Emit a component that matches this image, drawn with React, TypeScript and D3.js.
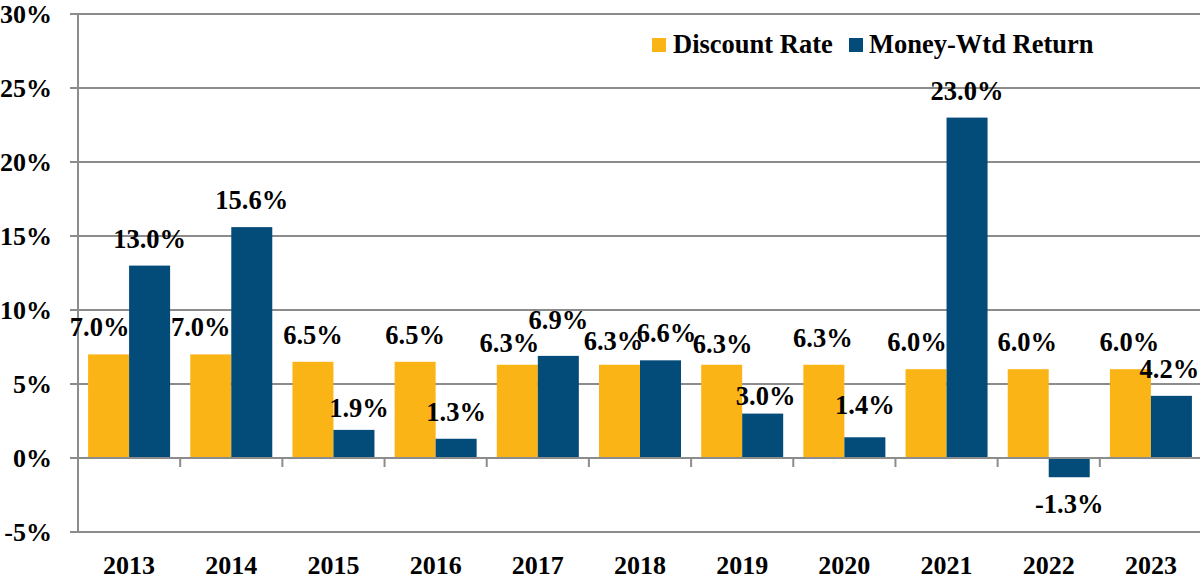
import React from "react";
import * as d3 from "d3";

const years = ["2013", "2014", "2015", "2016", "2017", "2018", "2019", "2020", "2021", "2022", "2023"];
const discountRate = [7.0, 7.0, 6.5, 6.5, 6.3, 6.3, 6.3, 6.3, 6.0, 6.0, 6.0];
const moneyWtdReturn = [13.0, 15.6, 1.9, 1.3, 6.9, 6.6, 3.0, 1.4, 23.0, -1.3, 4.2];
const yTicks = [-5, 0, 5, 10, 15, 20, 25, 30];
const seriesNames = ["Discount Rate", "Money-Wtd Return"];
const seriesColors = ["#FBB416", "#034B78"];

// manual label nudges (as placed in the original chart), [dx, dy]
const discountNudge: [number, number][] = [[-9, 0], [-10, 0], [0, 0], [0, 0], [-8, 5], [-6, 3], [1, 6], [-1, 0], [-9, 0], [-1, 0], [-1, 0]];
const returnNudge: [number, number][] = [[0, 0], [0, 0], [5, 5], [0, 0], [0, -9], [6, 0], [3, 9], [0, -5], [0, 0], [0, 0], [-2, 0]];

const W = 1200;
const H = 581;
const FONT = "'Liberation Serif', 'Times New Roman', serif";

export default function App() {
  const x = d3.scaleBand<string>().domain(years).range([78, 1202]).padding(0);
  const inner = d3.scaleBand<number>().domain([0, 1]).range([0, x.bandwidth()]).paddingInner(0).paddingOuter(0.246);
  const y = d3.scaleLinear().domain([-5, 30]).range([532, 14]);
  const grid = "#8C8C8C";
  const series = [discountRate, moneyWtdReturn];
  const nudges = [discountNudge, returnNudge];

  return (
    <div style={{ position: "fixed", left: 0, top: 0 }}>
      <svg width={W} height={H} style={{ display: "block", background: "#fff" }} fontFamily={FONT} fontWeight="bold">
        {/* gridlines */}
        {yTicks.map((t) => (
          <line key={"g" + t} x1={70} x2={W} y1={y(t)} y2={y(t)} stroke={grid} strokeWidth={2} />
        ))}
        {/* y axis */}
        <line x1={78} x2={78} y1={y(30)} y2={y(-5)} stroke={grid} strokeWidth={2} />
        {yTicks.map((t) => (
          <text key={"yl" + t} x={52} y={y(t)} dy="0.34em" textAnchor="end" fontSize={26} fill="#000">
            {t + "%"}
          </text>
        ))}
        {/* bars */}
        {series.map((vals, si) =>
          vals.map((v, i) => {
            const bx = (x(years[i]) as number) + (inner(si) as number);
            return (
              <rect
                key={"b" + si + "-" + i}
                x={bx}
                y={y(Math.max(0, v))}
                width={inner.bandwidth()}
                height={Math.abs(y(v) - y(0))}
                fill={seriesColors[si]}
              />
            );
          })
        )}
        {/* x axis line and ticks */}
        <line x1={70} x2={W} y1={y(0)} y2={y(0)} stroke={grid} strokeWidth={2} />
        {years.map((yr) => (
          <line key={"xt" + yr} x1={(x(yr) as number) + x.bandwidth()} x2={(x(yr) as number) + x.bandwidth()} y1={y(0)} y2={y(0) + 9} stroke={grid} strokeWidth={2} />
        ))}
        {years.map((yr) => (
          <text key={"xl" + yr} x={(x(yr) as number) + x.bandwidth() / 2} y={574} textAnchor="middle" fontSize={26} fill="#000">
            {yr}
          </text>
        ))}
        {/* data labels */}
        {series.map((vals, si) =>
          vals.map((v, i) => {
            const cx = (x(years[i]) as number) + (inner(si) as number) + inner.bandwidth() / 2;
            const base = v >= 0 ? y(v) - 18 : y(v) + 36;
            const [dx, dy] = nudges[si][i];
            return (
              <text key={"l" + si + "-" + i} x={cx + dx} y={base + dy} textAnchor="middle" fontSize={26.5} fill="#000">
                {v.toFixed(1) + "%"}
              </text>
            );
          })
        )}
        {/* legend */}
        <rect x={652} y={38} width={14} height={14} fill={seriesColors[0]} />
        <text x={673} y={53} fontSize={26.5} fill="#000">{seriesNames[0]}</text>
        <rect x={849} y={38} width={14} height={14} fill={seriesColors[1]} />
        <text x={869} y={53} fontSize={26.5} fill="#000">{seriesNames[1]}</text>
      </svg>
    </div>
  );
}
